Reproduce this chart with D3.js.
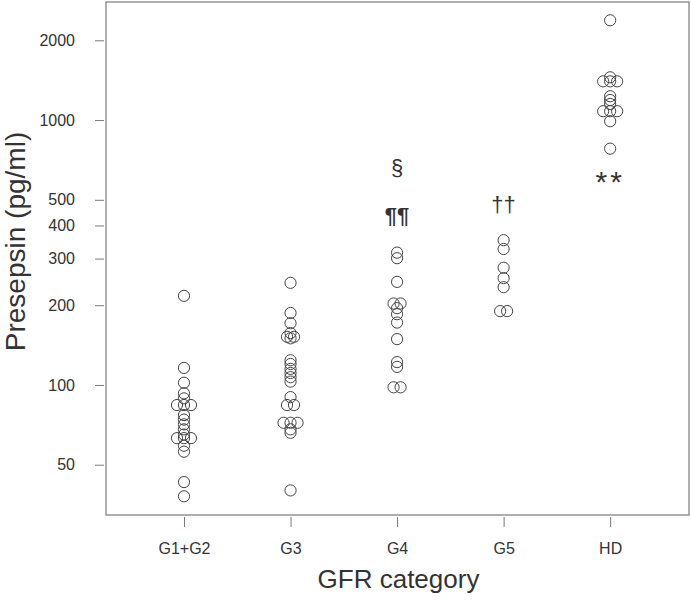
<!DOCTYPE html>
<html>
<head>
<meta charset="utf-8">
<script src="https://cdn.jsdelivr.net/npm/d3@7"></script>
<style>
  html, body { margin: 0; padding: 0; background: #fff; }
  svg { display: block; }
  text { font-family: "Liberation Sans", Arial, sans-serif; fill: #333; }
</style>
</head>
<body>
<svg id="chart" width="691" height="602"></svg>
<script>
// ---- data ----
const categories = ["G1+G2", "G3", "G4", "G5", "HD"];
const g12Values = [217, 116, 102, 93, 89, 84, 84, 84, 77, 74, 71, 68, 65, 63, 63, 63, 59, 56, 43, 38];
const g3Values  = [243, 187, 171, 157, 152, 152, 150, 124, 120, 115, 111, 107, 103, 90, 84, 84, 72, 72, 72, 68, 66, 40];
const g4Values  = [316, 301, 245, 203, 203, 195, 185, 172, 149, 122, 117, 98, 98];
const g5Values  = [352, 326, 277, 253, 234, 190, 190];
const hdValues  = [2380, 1450, 1400, 1400, 1400, 1230, 1190, 1150, 1080, 1080, 1080, 990, 780];
const seriesValues = [g12Values, g3Values, g4Values, g5Values, hdValues];
const yTickValues = [50, 100, 200, 300, 400, 500, 1000, 2000];
const annotCats   = ["G4", "G4", "G5", "HD"];
const annotTexts  = ["§", "¶¶", "††", "**"];
const annotValues = [650, 430, 475, 575];
const xTitle = "GFR category";
const yTitle = "Presepsin (pg/ml)";

// ---- layout ----
const svg = d3.select("#chart");
const box = { left: 106, right: 689, top: 2, bottom: 515 };

const x = d3.scaleLinear()
  .domain([0.268, 5.74])
  .range([box.left, box.right]);
const catX = c => x(categories.indexOf(c) + 1);

const y = d3.scaleLog()
  .domain([32.3, 2790])
  .range([box.bottom, box.top]);

// box
svg.append("rect")
  .attr("x", box.left).attr("y", box.top)
  .attr("width", box.right - box.left).attr("height", box.bottom - box.top)
  .attr("fill", "none").attr("stroke", "#7a7a7a").attr("stroke-width", 1.2);

// y axis
const yAxis = d3.axisLeft(y)
  .tickValues(yTickValues)
  .tickFormat(d3.format("d"))
  .tickSize(9)
  .tickPadding(20);
const gy = svg.append("g")
  .attr("transform", `translate(${box.left - 2},0)`)
  .call(yAxis);
gy.select(".domain").remove();
gy.selectAll(".tick line").attr("stroke", "#7a7a7a");
gy.selectAll(".tick text").style("font-size", "16px").attr("fill", "#333");

// x axis
const xAxis = d3.axisBottom(x)
  .tickValues(categories.map((c, i) => i + 1))
  .tickFormat((d) => categories[d - 1])
  .tickSize(10)
  .tickPadding(16);
const gx = svg.append("g")
  .attr("transform", `translate(0,${box.bottom + 2})`)
  .call(xAxis);
gx.select(".domain").remove();
gx.selectAll(".tick line").attr("stroke", "#7a7a7a");
gx.selectAll(".tick text").style("font-size", "16px").attr("fill", "#333");

// titles
svg.append("text")
  .attr("x", (box.left + box.right) / 2 + 1)
  .attr("y", 588)
  .attr("text-anchor", "middle")
  .style("font-size", "26px")
  .text(xTitle);

svg.append("text")
  .attr("transform", `translate(25,${(box.top + box.bottom) / 2 - 17}) rotate(-90)`)
  .attr("text-anchor", "middle")
  .style("font-size", "28px")
  .text(yTitle);

// points (duplicates spread horizontally)
const spacing = 7;
const points = [];
seriesValues.forEach((vals, ci) => {
  const counts = d3.rollup(vals, v => v.length, v => v);
  const seen = new Map();
  vals.forEach(v => {
    const n = counts.get(v);
    const k = seen.get(v) || 0;
    seen.set(v, k + 1);
    points.push({ cat: categories[ci], value: v, off: (k - (n - 1) / 2) * spacing });
  });
});

svg.append("g")
  .selectAll("circle")
  .data(points)
  .join("circle")
  .attr("cx", d => catX(d.cat) + d.off)
  .attr("cy", d => y(d.value))
  .attr("r", 5.6)
  .attr("fill", "none")
  .attr("stroke", "#444")
  .attr("stroke-width", 1);

// annotations
svg.append("g")
  .selectAll("text")
  .data(annotTexts.map((t, i) => ({ t, cat: annotCats[i], v: annotValues[i] })))
  .join("text")
  .attr("x", d => catX(d.cat))
  .attr("y", d => y(d.v))
  .attr("text-anchor", "middle")
  .attr("dominant-baseline", "middle")
  .style("font-size", d => d.t === "**" ? "30px" : "22px")
  .style("letter-spacing", d => d.t === "**" ? "3px" : "0px")
  .style("font-weight", d => d.t === "¶¶" ? "bold" : "normal")
  .attr("fill", "#222")
  .text(d => d.t);
</script>
</body>
</html>
